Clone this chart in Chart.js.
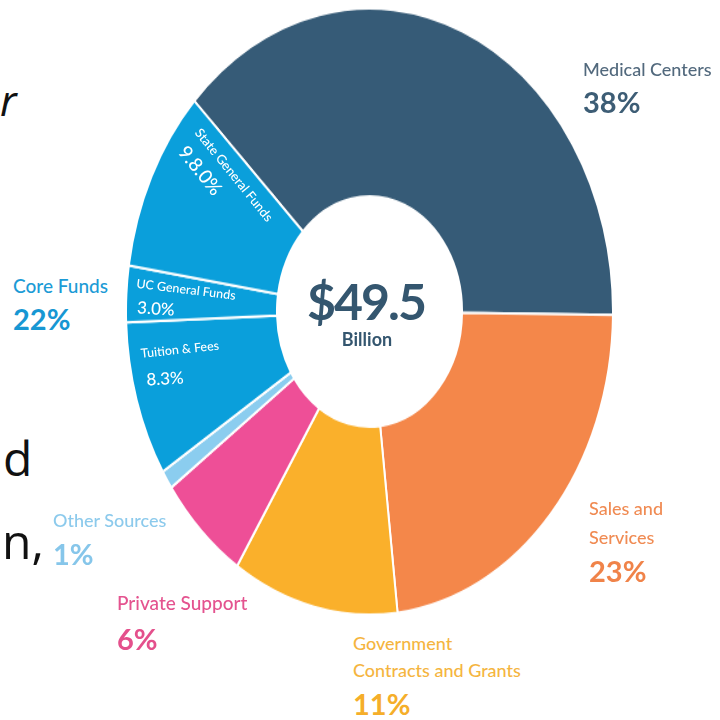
<!DOCTYPE html>
<html>
<head>
<meta charset="utf-8">
<script src="https://cdn.jsdelivr.net/npm/chart.js@4"></script>
<style>
  html, body { margin: 0; padding: 0; background: #fff; }
  body { width: 720px; height: 720px; position: relative; overflow: hidden; font-family: Lato, "Open Sans", sans-serif; }
  #wrap { position: absolute; left: 125px; top: 67px; width: 489px; height: 489px; transform: scaleY(1.245); transform-origin: 50% 50%; }
  .t { position: absolute; line-height: 1; white-space: nowrap; font-weight: 500; }
  .pct { font-weight: 700; }
  .in { position: absolute; line-height: 1; white-space: nowrap; color: #fff; font-weight: 500; transform-origin: 50% 50%; }
  .frag { position: absolute; line-height: 1; font-family: "Open Sans", sans-serif; color: #111; }
</style>
</head>
<body>
<div id="wrap"><canvas id="donut"></canvas></div>
<div id="labels"></div>
<script>
// slices, clockwise from the Medical Centers edge
const categories = ["Medical Centers", "Sales and Services", "Government Contracts and Grants",
  "Private Support", "Other Sources", "Tuition & Fees", "UC General Funds", "State General Funds"];
const shares = [38, 23, 11, 6, 1, 8.3, 3.0, 9.8];
const sliceColors = ["#365b77", "#f4874a", "#fab02b", "#ee4f97", "#8bcdef", "#0a9fdb", "#0a9fdb", "#0a9fdb"];

// outer group labels
const groupNames = ["Medical Centers", "Sales and|Services", "Government|Contracts and Grants",
  "Private Support", "Other Sources", "Core Funds"];
const groupShares = ["38%", "23%", "11%", "6%", "1%", "22%"];
const groupColors = [["#52697d", "#3d5d75"], ["#f08b53", "#f08349"], ["#f5b53f", "#f5ae2a"],
  ["#e4538f", "#e4508c"], ["#8ccaec", "#86c6ea"], ["#1c9bd6", "#1797d3"]];
// [left, top of first line, line step, top of percent, name size]
const groupPlace = [[583, 60, 0, 87, 18], [589, 499, 29, 556, 18], [353, 634, 27, 689, 18],
  [117, 593, 0, 624, 19], [53, 511, 0, 539, 18], [13, 276, 0, 304, 19]];

// inner core-fund labels: [text, centre x, centre y, angle, size]
const coreLabels = [
  ["State General Funds", 234, 175, 51, 13], ["9.8.0%", 201, 170, 51, 19],
  ["UC General Funds", 186, 290, 7, 12.5], ["3.0%", 156, 308, 4, 17],
  ["Tuition & Fees", 180, 350, -6, 12.5], ["8.3%", 165, 378, -3, 17]
];

const box = document.getElementById("labels");
function add(cls, txt, css) {
  const d = document.createElement("div");
  d.className = cls;
  d.textContent = txt;
  Object.assign(d.style, css);
  box.appendChild(d);
  return d;
}

groupNames.forEach((name, i) => {
  const [left, top, step, ptop, fs] = groupPlace[i];
  name.split("|").forEach((line, j) => {
    add("t", line, { left: left + "px", top: (top + j * step) + "px", fontSize: fs + "px", color: groupColors[i][0] });
  });
  add("t pct", groupShares[i], { left: left + "px", top: ptop + "px", fontSize: "29px", color: groupColors[i][1] });
});

coreLabels.forEach(([txt, x, y, a, fs]) => {
  add("in", txt, { left: x + "px", top: y + "px", fontSize: fs + "px", transform: `translate(-50%,-50%) rotate(${a}deg)` });
});

// centre total
add("t pct", "$49.5", { left: "366px", top: "276px", fontSize: "50px", letterSpacing: "-2px", color: "#34566f", transform: "translateX(-50%)" });
add("t pct", "Billion", { left: "367px", top: "330px", fontSize: "18px", color: "#34566f", transform: "translateX(-50%)" });

// cut-off slide text at the left edge
add("frag", "r", { left: "0px", top: "79px", fontSize: "42px", fontStyle: "italic" });
add("frag", "d", { left: "3px", top: "434px", fontSize: "48px" });
add("frag", "en,", { left: "-25px", top: "517px", fontSize: "48px" });

const ctx = document.getElementById("donut").getContext("2d");
const donut = new Chart(ctx, {
  type: "doughnut",
  data: {
    labels: categories,
    datasets: [{
      data: shares,
      backgroundColor: sliceColors,
      borderColor: "#ffffff",
      borderWidth: 2
    }]
  },
  options: {
    responsive: true,
    maintainAspectRatio: false,
    animation: false,
    events: [],
    rotation: -46,
    cutout: "38%",
    layout: { padding: 0 },
    plugins: { legend: { display: false }, tooltip: { enabled: false } }
  }
});
</script>
</body>
</html>
